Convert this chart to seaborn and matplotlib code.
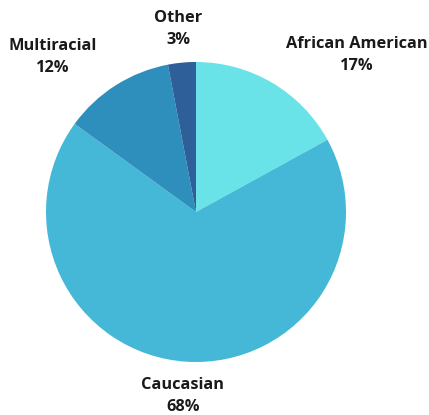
import matplotlib
matplotlib.use("Agg")
import matplotlib.pyplot as plt
import seaborn as sns

categories = ["African American", "Caucasian", "Multiracial", "Other"]
shares = [17, 68, 12, 3]
pct_labels = ["17%", "68%", "12%", "3%"]
slice_colors = ["#69E3E8", "#44B8D6", "#2E8EBC", "#2E5F98"]

sns.set_theme(style="white")
plt.rcParams["font.family"] = ["Open Sans", "DejaVu Sans"]

fig = plt.figure(figsize=(4.29, 4.15), dpi=100)
ax = fig.add_axes([0, 0, 1, 1])
palette = sns.color_palette(slice_colors)

ax.pie(
    shares,
    colors=palette,
    startangle=90,
    counterclock=False,
    radius=150,
    center=(196, 203),
    frame=True,
    wedgeprops=dict(linewidth=0),
)
ax.set_xlim(0, 429)
ax.set_ylim(0, 415)
ax.set_aspect("equal")
ax.axis("off")

# label anchor positions (pixels from top-left)
label_pos = {
    "African American": (357, 55),
    "Caucasian": (183, 396),
    "Multiracial": (53, 57),
    "Other": (178, 29),
}
for cat, pct in zip(categories, pct_labels):
    x, y = label_pos[cat]
    ax.text(x, 415 - y, f"{cat}\n{pct}", ha="center", va="center",
            fontsize=11.8, fontweight="bold", color="#1a1a1a", linespacing=1.5)

fig.savefig("out.png", dpi=100)
